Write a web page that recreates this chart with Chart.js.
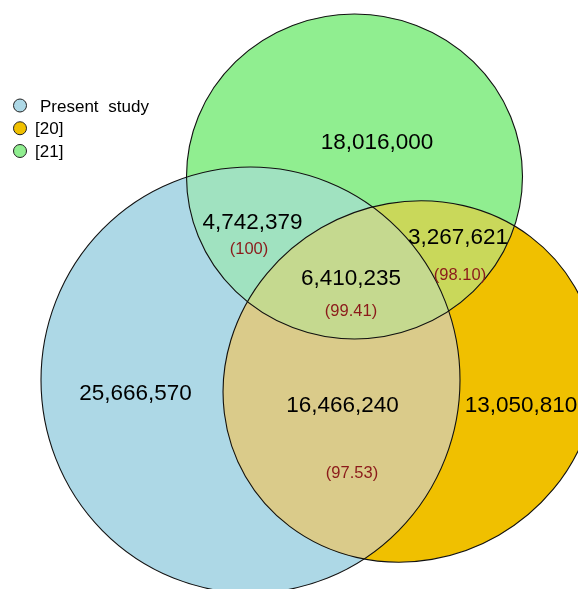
<!DOCTYPE html>
<html>
<head>
<meta charset="utf-8">
<script src="https://cdn.jsdelivr.net/npm/chart.js@4/dist/chart.umd.min.js"></script>
<style>
  html, body { margin: 0; padding: 0; background: #ffffff; }
  #wrap { width: 578px; height: 589px; }
</style>
</head>
<body>
<div id="wrap"><canvas id="c" width="578" height="589"></canvas></div>
<script>
// ---- data ----
const setNames = ['Present study', '[20]', '[21]'];
const regionNames = ['Present study only', '[21] only', '[20] only',
  'Present study ∩ [21]', '[21] ∩ [20]', 'Present study ∩ [20] ∩ [21]', 'Present study ∩ [20]'];
const regionCounts = [25666570, 18016000, 13050810, 4742379, 3267621, 6410235, 16466240];
const regionPercents = ['', '', '', '100', '98.10', '99.41', '97.53'];

// ---- layout (plot units, 1 unit = 1 px) ----
const countAnchorX = [135.5, 377, 521, 252.5, 458, 351, 342.5];
const countAnchorY = [392, 141, 404, 220.5, 236, 277, 404];
const pctAnchorX = [null, null, null, 249, 460, 351, 352];
const pctAnchorY = [null, null, null, 248, 274, 310.5, 472.5];
// set shapes: Present study, [20], [21]
const shapeCX = [250.5, 410, 354.5];
const shapeCY = [380, 381.5, 176.5];
const shapeRX = [209.5, 190, 168];
const shapeRY = [213, 177.5, 162.5];
const shapeRot = [0, -30, 0];

// ---- styles ----
const setColors = ['#ADD8E6', '#F0C000', '#90EE90'];
const pairColors = { '0-2': '#A0E2C0', '0-1': '#DACB8A', '1-2': '#C9D85A' };
const tripleColor = '#C5D98F';
const FONT = '"Liberation Sans", Arial, sans-serif';

const countPoints = regionCounts.map((v, i) => ({ x: countAnchorX[i], y: countAnchorY[i] }));
const pctPoints = regionPercents.map((v, i) => ({ x: pctAnchorX[i] ?? 0, y: pctAnchorY[i] ?? 0 }));

const vennPlugin = {
  id: 'venn',
  beforeDatasetsDraw(chart) {
    const { ctx, scales: { x, y } } = chart;
    const shapes = shapeCX.map((cx, i) => {
      const px = x.getPixelForValue(cx), py = y.getPixelForValue(shapeCY[i]);
      return {
        px, py,
        rx: Math.abs(x.getPixelForValue(cx + shapeRX[i]) - px),
        ry: Math.abs(y.getPixelForValue(shapeCY[i] + shapeRY[i]) - py),
        rot: shapeRot[i] * Math.PI / 180
      };
    });
    const path = (s) => { ctx.beginPath(); ctx.ellipse(s.px, s.py, s.rx, s.ry, s.rot, 0, Math.PI * 2); };
    ctx.save();
    ctx.fillStyle = '#ffffff';
    ctx.fillRect(0, 0, chart.width, chart.height);
    shapes.forEach((s, i) => { path(s); ctx.fillStyle = setColors[i]; ctx.fill(); });
    Object.keys(pairColors).forEach(k => {
      const [a, b] = k.split('-').map(Number);
      ctx.save(); path(shapes[a]); ctx.clip(); path(shapes[b]); ctx.fillStyle = pairColors[k]; ctx.fill(); ctx.restore();
    });
    ctx.save(); path(shapes[0]); ctx.clip(); path(shapes[1]); ctx.clip(); path(shapes[2]);
    ctx.fillStyle = tripleColor; ctx.fill(); ctx.restore();
    ctx.lineWidth = 1.1; ctx.strokeStyle = '#111111';
    shapes.forEach(s => { path(s); ctx.stroke(); });
    ctx.restore();
  },
  afterDatasetsDraw(chart) {
    const { ctx } = chart;
    const cMeta = chart.getDatasetMeta(0).data;
    const pMeta = chart.getDatasetMeta(1).data;
    ctx.save();
    ctx.textBaseline = 'alphabetic';
    ctx.textAlign = 'center';
    ctx.fillStyle = '#000000';
    const cs = 22.5;
    ctx.font = cs + 'px ' + FONT;
    regionCounts.forEach((v, i) => {
      const el = cMeta[i];
      ctx.fillText(v.toLocaleString('en-US'), el.x, el.y + 0.358 * cs);
    });
    ctx.fillStyle = '#8B1A1A';
    const ps = 16.5;
    ctx.font = ps + 'px ' + FONT;
    regionPercents.forEach((p, i) => {
      if (!p) return;
      const el = pMeta[i];
      ctx.fillText('(' + p + ')', el.x, el.y + 0.358 * ps);
    });
    // legend
    const lx = 20, ly0 = 105.5, step = 22.75;
    const textX = [40, 35, 35];
    const ls = 17;
    ctx.textAlign = 'left';
    ctx.font = ls + 'px ' + FONT;
    setNames.forEach((n, i) => {
      const cy = ly0 + i * step;
      ctx.beginPath(); ctx.arc(lx, cy, 6.5, 0, Math.PI * 2);
      ctx.fillStyle = setColors[i]; ctx.fill();
      ctx.lineWidth = 1; ctx.strokeStyle = '#222222'; ctx.stroke();
      ctx.fillStyle = '#000000';
      ctx.wordSpacing = '5px';
      ctx.fillText(n, textX[i], cy + 0.358 * ls);
      ctx.wordSpacing = '0px';
    });
    ctx.restore();
  }
};

new Chart(document.getElementById('c'), {
  type: 'scatter',
  data: {
    datasets: [
      { label: 'Region counts', data: countPoints, pointRadius: 0, pointHoverRadius: 0 },
      { label: 'Identity (%)', data: pctPoints, pointRadius: 0, pointHoverRadius: 0 }
    ]
  },
  options: {
    responsive: false,
    devicePixelRatio: 1,
    animation: false,
    layout: { padding: 0 },
    plugins: { legend: { display: false }, tooltip: { enabled: false } },
    scales: {
      x: { type: 'linear', min: 0, max: 578, display: false },
      y: { type: 'linear', min: 0, max: 589, reverse: true, display: false }
    }
  },
  plugins: [vennPlugin]
});
</script>
</body>
</html>
